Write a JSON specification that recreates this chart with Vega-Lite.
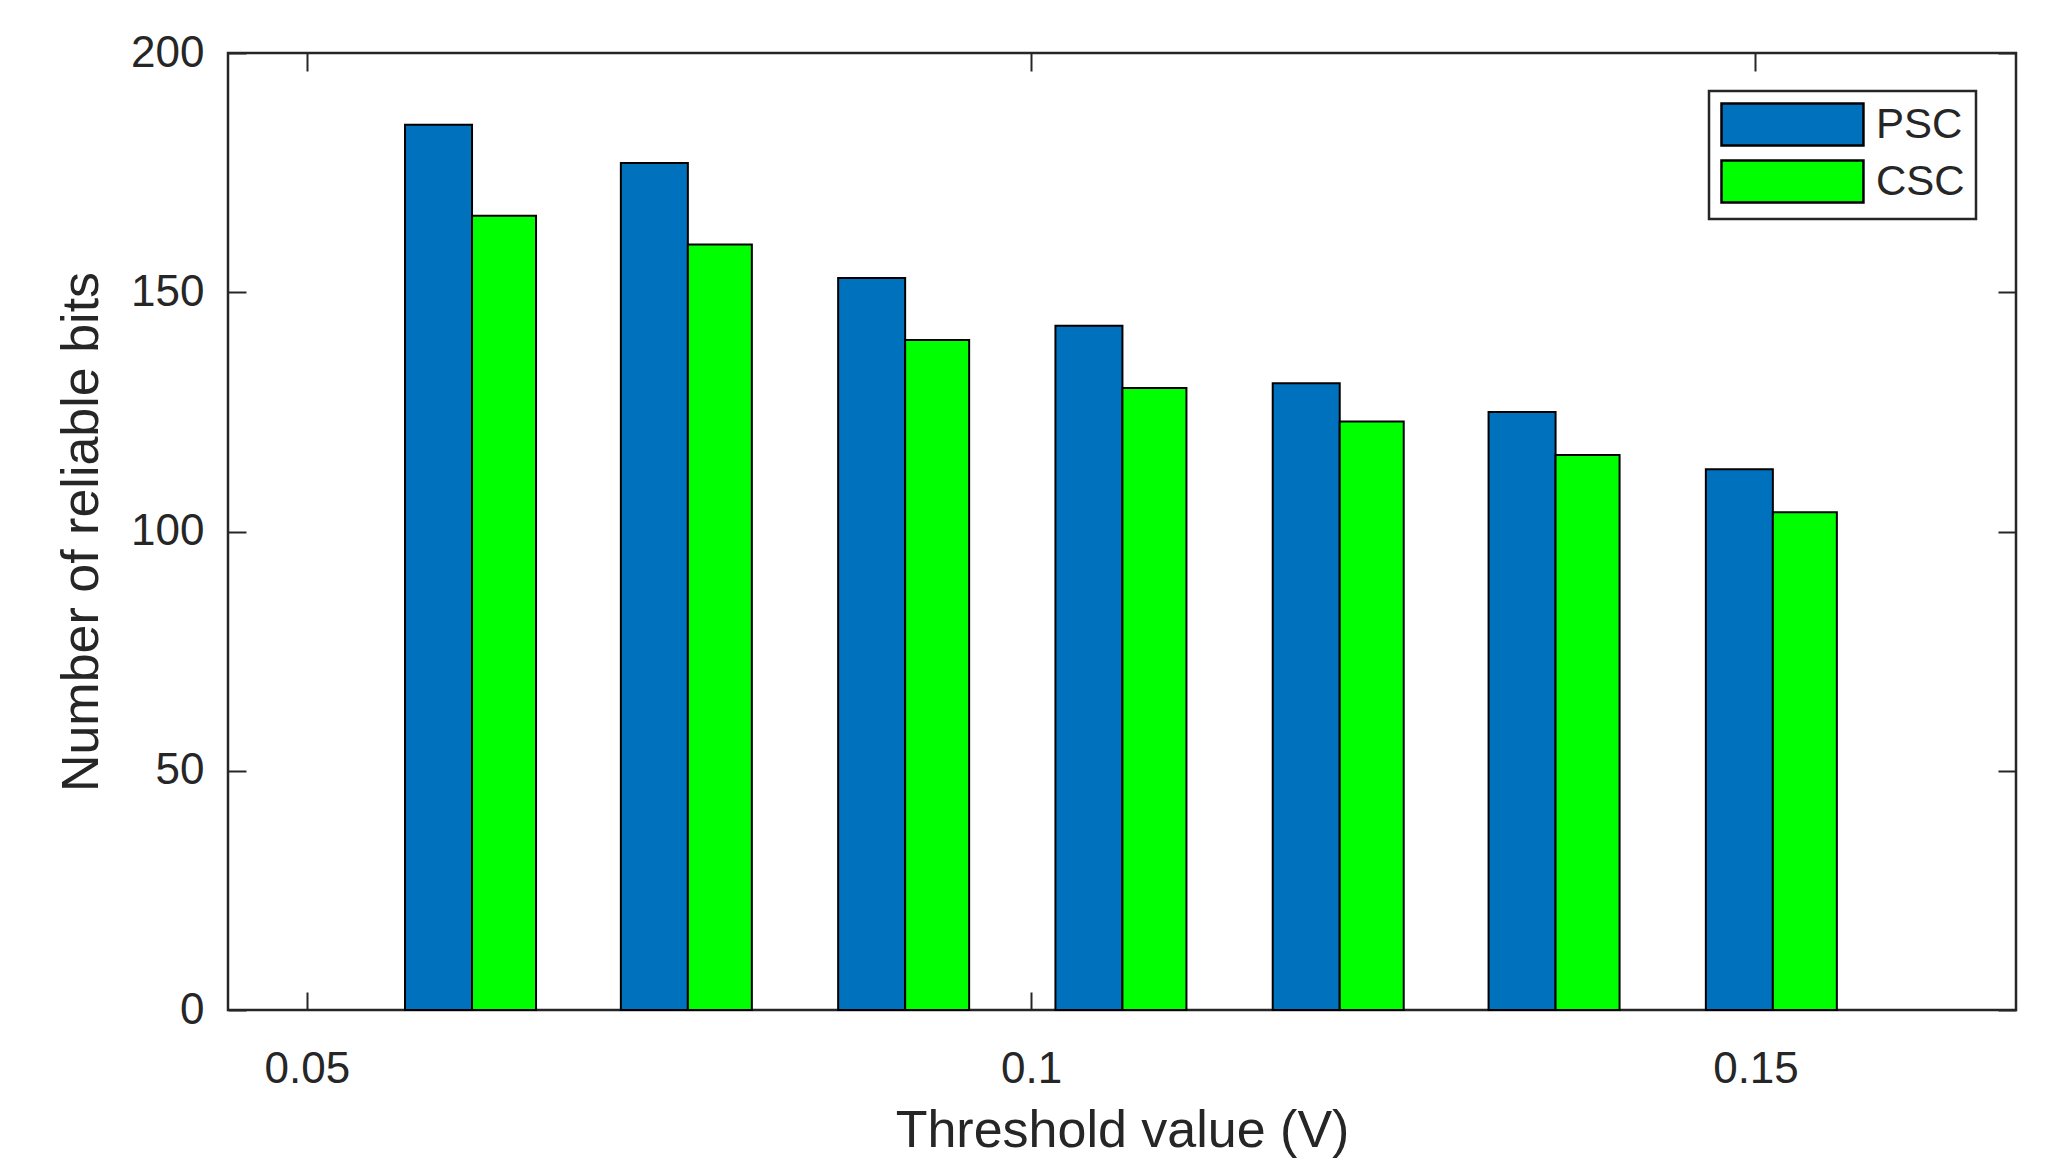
{
  "$schema": "https://vega.github.io/schema/vega-lite/v6.json",
  "autosize": "none",
  "width": 1788,
  "height": 957,
  "padding": {"left": 228, "top": 53, "right": 52, "bottom": 166},
  "background": "white",
  "data": {
    "values": [
      {"threshold": 0.0614, "series": "PSC", "bits": 185},
      {"threshold": 0.0614, "series": "CSC", "bits": 166},
      {"threshold": 0.0763, "series": "PSC", "bits": 177},
      {"threshold": 0.0763, "series": "CSC", "bits": 160},
      {"threshold": 0.0913, "series": "PSC", "bits": 153},
      {"threshold": 0.0913, "series": "CSC", "bits": 140},
      {"threshold": 0.1063, "series": "PSC", "bits": 143},
      {"threshold": 0.1063, "series": "CSC", "bits": 130},
      {"threshold": 0.1213, "series": "PSC", "bits": 131},
      {"threshold": 0.1213, "series": "CSC", "bits": 123},
      {"threshold": 0.1362, "series": "PSC", "bits": 125},
      {"threshold": 0.1362, "series": "CSC", "bits": 116},
      {"threshold": 0.1512, "series": "PSC", "bits": 113},
      {"threshold": 0.1512, "series": "CSC", "bits": 104}
    ]
  },
  "encoding": {
    "color": {
      "field": "series",
      "type": "nominal",
      "scale": {"domain": ["PSC", "CSC"], "range": ["#0072BD", "#00FF00"]},
      "legend": {
        "title": null,
        "orient": "none",
        "legendX": 1481,
        "legendY": 38,
        "direction": "vertical",
        "symbolType": "M-1,-1H5.76V1H-1Z",
        "symbolSize": 1764,
        "symbolStrokeColor": "black",
        "symbolStrokeWidth": 2.5,
        "symbolOpacity": 1,
        "labelFont": "Liberation Sans",
        "labelFontSize": 42,
        "labelColor": "#262626",
        "labelOffset": 111,
        "rowPadding": 4,
        "padding": 11,
        "strokeColor": "#262626",
        "fillColor": "white",
        "encode": {"legend": {"update": {"strokeWidth": {"value": 2.5}}}}
      }
    }
  },
  "layer": [
    {
      "transform": [{"filter": "datum.series === 'PSC'"}],
      "mark": {"type": "bar", "width": 67, "xOffset": -33.5, "stroke": "black", "strokeWidth": 2, "opacity": 1},
      "encoding": {
        "x": {
          "field": "threshold",
          "type": "quantitative",
          "scale": {"domain": [0.0449, 0.16764], "nice": false, "zero": false},
          "axis": {
            "orient": "bottom",
            "values": [0.05, 0.1, 0.15],
            "format": "~g",
            "title": "Threshold value (V)",
            "labelPadding": 55,
            "titlePadding": 14
          }
        },
        "y": {
          "field": "bits",
          "type": "quantitative",
          "scale": {"domain": [0, 200], "nice": false},
          "axis": {
            "orient": "left",
            "values": [0, 50, 100, 150, 200],
            "title": "Number of reliable bits",
            "labelPadding": 42,
            "titlePadding": 22
          }
        }
      }
    },
    {
      "transform": [{"filter": "datum.series === 'CSC'"}],
      "mark": {"type": "bar", "width": 64, "xOffset": 32, "stroke": "black", "strokeWidth": 2, "opacity": 1},
      "encoding": {
        "x": {
          "field": "threshold",
          "type": "quantitative",
          "scale": {"domain": [0.0449, 0.16764], "nice": false, "zero": false},
          "axis": {"orient": "top", "values": [0.05, 0.1, 0.15], "labels": false, "title": null}
        },
        "y": {
          "field": "bits",
          "type": "quantitative",
          "scale": {"domain": [0, 200], "nice": false},
          "axis": {"orient": "right", "values": [0, 50, 100, 150, 200], "labels": false, "title": null}
        }
      }
    }
  ],
  "resolve": {"axis": {"x": "independent", "y": "independent"}},
  "config": {
    "view": {"stroke": "#262626", "strokeWidth": 2.5},
    "axis": {
      "domain": false,
      "grid": false,
      "ticks": true,
      "tickSize": -18,
      "tickWidth": 2,
      "tickColor": "#262626",
      "labelFont": "Liberation Sans",
      "labelFontSize": 44,
      "labelColor": "#262626",
      "labelFlush": false,
      "labelOverlap": false,
      "titleFont": "Liberation Sans",
      "titleFontSize": 52,
      "titleFontWeight": "normal",
      "titleColor": "#262626"
    }
  }
}
